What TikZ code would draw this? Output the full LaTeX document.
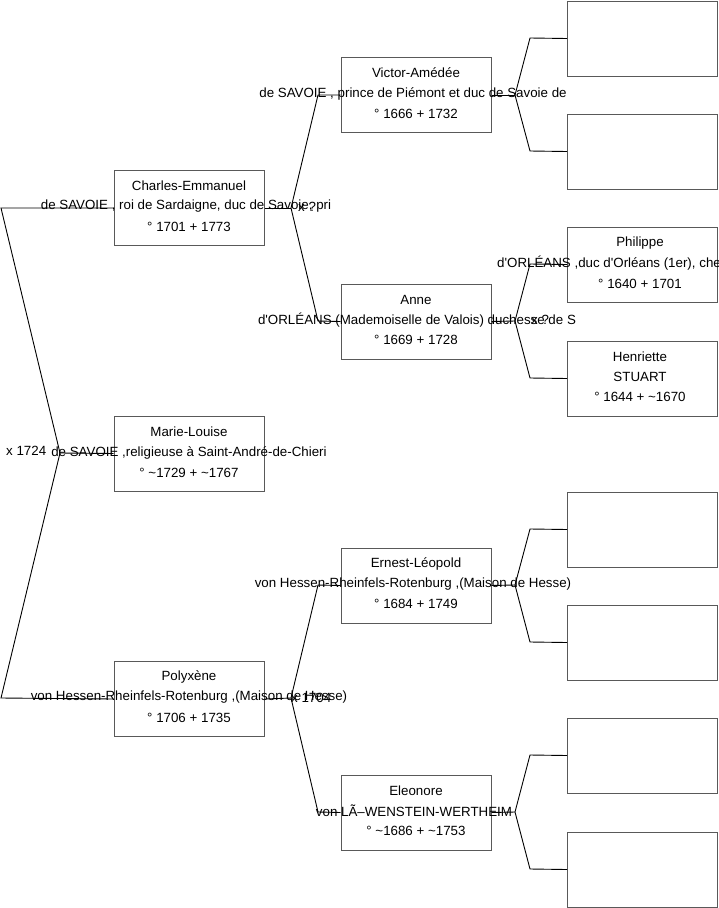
\documentclass[tikz,border=0pt]{standalone}
\usepackage{fontspec}
\setmainfont{Liberation Sans}
\newcommand\tld{\char"7E\relax}
\newcommand\apo{\textquotesingle}
\begin{document}
\begin{tikzpicture}[x=1pt,y=-1pt,
  pbox/.style={draw=black!65,line width=1pt,minimum width=150pt,minimum height=75pt,inner sep=0pt},
  txt/.style={font=\fontsize{13.33}{16}\selectfont,inner sep=0pt},
  lbl/.style={font=\fontsize{13.33}{16}\selectfont,inner sep=0pt,anchor=west},
  conn/.style={draw=black,line width=0.9pt}]
\useasboundingbox[fill=white] (0,0) rectangle (719,908);

% ---------- boxes ----------
\node[pbox] (ce) at (189,208) {};
\node[pbox] (ml) at (189,453.5) {};
\node[pbox] (po) at (189,699) {};
\node[pbox] (va) at (416,95) {};
\node[pbox] (an) at (416,321.5) {};
\node[pbox] (el) at (416,585.5) {};
\node[pbox] (eo) at (416,812.5) {};
\node[pbox] (g1) at (642.5,38.5) {};
\node[pbox] (g2) at (642.5,151.5) {};
\node[pbox] (ph) at (642.5,264.5) {};
\node[pbox] (he) at (642.5,378.5) {};
\node[pbox] (g5) at (642.5,529.5) {};
\node[pbox] (g6) at (642.5,642.5) {};
\node[pbox] (g7) at (642.5,755.5) {};
\node[pbox] (g8) at (642.5,869.5) {};

% ---------- connectors ----------
\coordinate (rt) at (1,208);
\coordinate (rb) at (1,698);
\coordinate (rj) at (60,453);
\draw[conn] (ce.west) -- (rt) -- (rj) -- (rb) -- (po.west);
\draw[conn] (rj) -- (ml.west);

\coordinate (j1) at (291,208);
\coordinate (j1a) at (318,95);
\coordinate (j1b) at (318,321);
\draw[conn] (ce.east) -- (j1);
\draw[conn] (va.west) -- (j1a) -- (j1) -- (j1b) -- (an.west);

\coordinate (j2) at (291,698);
\coordinate (j2a) at (318,585);
\coordinate (j2b) at (318,812);
\draw[conn] (po.east) -- (j2);
\draw[conn] (el.west) -- (j2a) -- (j2) -- (j2b) -- (eo.west);

\coordinate (k1) at (515,95);
\coordinate (k1a) at (530,38);
\coordinate (k1b) at (530,151);
\draw[conn] (va.east) -- (k1);
\draw[conn] (g1.west) -- (k1a) -- (k1) -- (k1b) -- (g2.west);

\coordinate (k2) at (515,321);
\coordinate (k2a) at (530,264);
\coordinate (k2b) at (530,378);
\draw[conn] (an.east) -- (k2);
\draw[conn] (ph.west) -- (k2a) -- (k2) -- (k2b) -- (he.west);

\coordinate (k3) at (515,585);
\coordinate (k3a) at (530,529);
\coordinate (k3b) at (530,642);
\draw[conn] (el.east) -- (k3);
\draw[conn] (g5.west) -- (k3a) -- (k3) -- (k3b) -- (g6.west);

\coordinate (k4) at (515,812);
\coordinate (k4a) at (530,755);
\coordinate (k4b) at (530,869);
\draw[conn] (eo.east) -- (k4);
\draw[conn] (g7.west) -- (k4a) -- (k4) -- (k4b) -- (g8.west);

% ---------- texts ----------
\node[txt] (ce1) at (189,186) {Charles-Emmanuel};
\node[txt] (ce2) at (186,206.5) {de SAVOIE , roi de Sardaigne, duc de Savoie,  pri};
\node[txt] (ce3) at (189,226.5) {° 1701 + 1773};

\node[txt] (ml1) at (189,432) {Marie-Louise};
\node[txt] (ml2) at (189,452.5) {de SAVOIE ,religieuse à Saint-André-de-Chieri};
\node[txt] (ml3) at (189,472.5) {° \tld 1729 + \tld 1767};

\node[txt] (po1) at (189,677) {Polyxène};
\node[txt] (po2) at (189,697.5) {von Hessen-Rheinfels-Rotenburg ,(Maison de Hesse)};
\node[txt] (po3) at (189,717.5) {° 1706 + 1735};

\node[txt] (va1) at (416,73) {Victor-Amédée};
\node[txt] (va2) at (413,93.5) {de SAVOIE , prince de Piémont et duc de Savoie de};
\node[txt] (va3) at (416,113.5) {° 1666 + 1732};

\node[txt] (an1) at (416,299.5) {Anne};
\node[txt] (an2) at (417,320) {d\apo ORLÉANS  (Mademoiselle de Valois) duchesse de S};
\node[txt] (an3) at (416,340) {° 1669 + 1728};

\node[txt] (el1) at (416,563.5) {Ernest-Léopold};
\node[txt] (el2) at (413,584) {von Hessen-Rheinfels-Rotenburg ,(Maison de Hesse)};
\node[txt] (el3) at (416,604) {° 1684 + 1749};

\node[txt] (eo1) at (416,790.5) {Eleonore};
\node[txt] (eo2) at (414,811) {von LÃ–WENSTEIN-WERTHEIM};
\node[txt] (eo3) at (416,831) {° \tld 1686 + \tld 1753};

\node[txt] (ph1) at (640,243) {Philippe};
\node[lbl] (ph2) at (497,263.5) {d\apo ORLÉANS ,duc d\apo Orléans (1er), chevalier};
\node[txt] (ph3) at (640,283.5) {° 1640 + 1701};

\node[txt] (he1) at (640,356.5) {Henriette};
\node[txt] (he2) at (640,377) {STUART};
\node[txt] (he3) at (640,397) {° 1644 + \tld 1670};

% ---------- marriage labels ----------
\node[lbl] (m0) at (6,451) {x 1724};
\node[lbl] (m1) at (298,206.5) {x ?};
\node[lbl] (m2) at (531,320) {x ?};
\node[lbl] (m3) at (291,697.5) {x 1704};
\end{tikzpicture}
\end{document}
